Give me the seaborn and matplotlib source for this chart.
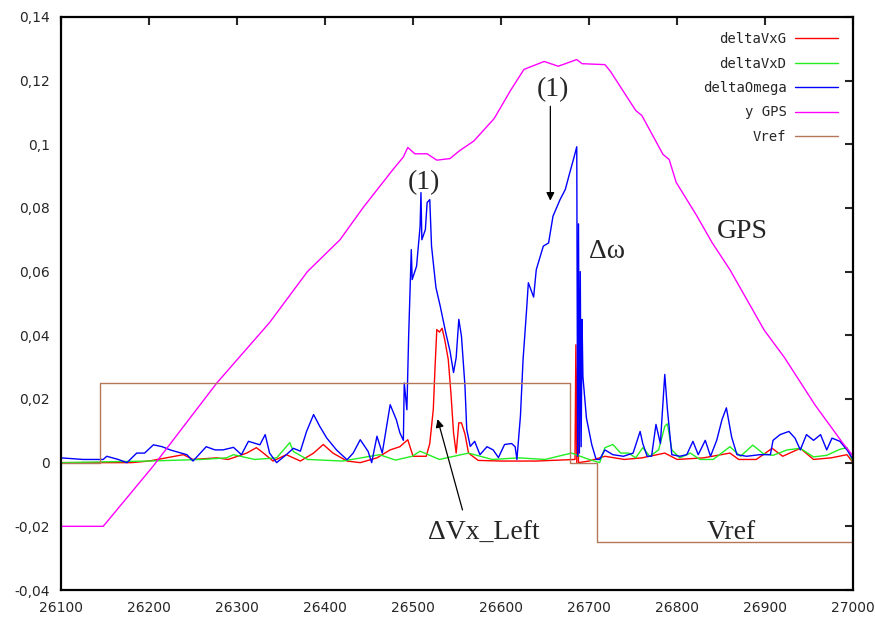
import pandas as pd
import matplotlib
matplotlib.use("Agg")
import matplotlib.pyplot as plt
from matplotlib.ticker import FuncFormatter
import seaborn as sns

# valeurs
om_x = [26100, 26125, 26148, 26152, 26165, 26175, 26186, 26195, 26205, 26215, 26224, 26243, 26250, 26265,
        26275, 26284, 26296, 26305, 26313, 26326, 26332, 26337, 26345, 26356, 26364, 26372, 26379, 26387,
        26394, 26402, 26413, 26425, 26432, 26440, 26449, 26453, 26459, 26465, 26474, 26481, 26485, 26489,
        26490, 26493, 26495, 26497, 26498, 26499, 26504, 26508, 26509, 26510, 26514, 26516, 26519, 26521,
        26526, 26531, 26537, 26542, 26546, 26549, 26552, 26555, 26559, 26561, 26565, 26570, 26576, 26584,
        26591, 26597, 26604, 26612, 26616, 26618, 26622, 26625, 26629, 26631, 26637, 26640, 26648, 26654,
        26659, 26667, 26673, 26678, 26682, 26686, 26687, 26688, 26689, 26690, 26691, 26692, 26693, 26697,
        26703, 26708, 26712, 26718, 26727, 26739, 26750, 26758, 26761, 26766, 26771, 26776, 26781, 26786,
        26789, 26794, 26803, 26811, 26818, 26824, 26832, 26838, 26845, 26851, 26856, 26862, 26868, 26879,
        26894, 26906, 26909, 26917, 26927, 26934, 26940, 26947, 26955, 26963, 26970, 26976, 26985, 26993, 27000]
om_y = [0.0015, 0.001, 0.001, 0.002, 0.001, 0.0, 0.003, 0.003, 0.0056, 0.005, 0.004, 0.0025, 0.0005, 0.005,
        0.004, 0.004, 0.0048, 0.0025, 0.0067, 0.0056, 0.0088, 0.003, 0.0, 0.0025, 0.0045, 0.0036, 0.0098, 0.0151,
        0.0114, 0.0077, 0.004, 0.0009, 0.003, 0.0072, 0.0035, 0.0, 0.0083, 0.003, 0.0182, 0.0135, 0.0094, 0.007,
        0.025, 0.0166, 0.0397, 0.0575, 0.0669, 0.0575, 0.0617, 0.0742, 0.0848, 0.070, 0.0732, 0.0817, 0.0826, 0.068,
        0.055, 0.049, 0.041, 0.035, 0.0283, 0.033, 0.045, 0.0397, 0.024, 0.0104, 0.0051, 0.0067, 0.0025, 0.005,
        0.004, 0.0016, 0.0057, 0.006, 0.005, 0.001, 0.0146, 0.0324, 0.048, 0.0565, 0.052, 0.0606, 0.068, 0.069,
        0.0774, 0.0826, 0.0858, 0.091, 0.095, 0.0992, 0.002, 0.075, 0.003, 0.06, 0.005, 0.045, 0.027, 0.014,
        0.0057, 0.001, 0.001, 0.004, 0.0025, 0.002, 0.003, 0.0098, 0.006, 0.002, 0.002, 0.012, 0.006, 0.0277,
        0.0167, 0.0025, 0.002, 0.0025, 0.0067, 0.0025, 0.007, 0.002, 0.007, 0.0135, 0.0172, 0.008, 0.0025, 0.002,
        0.0025, 0.0025, 0.007, 0.0088, 0.0098, 0.0077, 0.004, 0.0088, 0.007, 0.0088, 0.004, 0.0077, 0.0067, 0.004, 0.001]

vxg_x = [26100, 26180, 26200, 26239, 26250, 26277, 26290, 26311, 26322, 26330, 26341, 26356, 26372, 26387,
         26398, 26409, 26425, 26440, 26459, 26474, 26485, 26494, 26500, 26515, 26519, 26523, 26525, 26527,
         26530, 26533, 26536, 26540, 26543, 26546, 26549, 26552, 26555, 26559, 26563, 26574, 26600, 26640,
         26684, 26685, 26686, 26687, 26688, 26700, 26718, 26740, 26760, 26786, 26800, 26830, 26860, 26870,
         26890, 26908, 26920, 26940, 26955, 26975, 26993, 27000]
vxg_y = [0.0, 0.0, 0.0005, 0.0025, 0.001, 0.0015, 0.001, 0.003, 0.0047, 0.003, 0.0005, 0.0025, 0.0005, 0.003,
         0.0057, 0.003, 0.0005, 0.0, 0.0015, 0.004, 0.005, 0.0072, 0.002, 0.002, 0.006, 0.0167, 0.030, 0.0418,
         0.041, 0.0422, 0.0386, 0.0324, 0.022, 0.0094, 0.003, 0.0125, 0.0125, 0.009, 0.003, 0.0007, 0.0005, 0.0005,
         0.001, 0.037, 0.0, 0.03, 0.0, 0.0005, 0.002, 0.001, 0.0015, 0.003, 0.001, 0.0015, 0.003, 0.001,
         0.001, 0.0045, 0.002, 0.0045, 0.001, 0.0015, 0.0025, 0.0]

vxd_x = [26100, 26200, 26260, 26288, 26296, 26320, 26345, 26360, 26364, 26380, 26420, 26462, 26480, 26499,
         26508, 26530, 26563, 26590, 26620, 26650, 26680, 26700, 26712, 26718, 26727, 26736, 26745, 26753,
         26761, 26769, 26779, 26786, 26789, 26794, 26803, 26815, 26826, 26841, 26860, 26872, 26886, 26898,
         26909, 26925, 26940, 26955, 26970, 26985, 26993, 27000]
vxd_y = [0.0, 0.0005, 0.001, 0.0015, 0.0025, 0.001, 0.0015, 0.0063, 0.0035, 0.001, 0.0005, 0.0025, 0.0008, 0.002,
         0.0036, 0.001, 0.003, 0.001, 0.0015, 0.001, 0.003, 0.001, 0.0, 0.0047, 0.0057, 0.003, 0.003, 0.0015,
         0.0047, 0.002, 0.004, 0.0114, 0.0122, 0.004, 0.0015, 0.003, 0.001, 0.001, 0.005, 0.002, 0.0055, 0.0028,
         0.0023, 0.004, 0.0045, 0.0018, 0.0023, 0.0042, 0.0047, 0.0]

gps_x = [26100, 26148, 26205, 26277, 26337, 26380, 26417, 26443, 26477, 26489, 26494, 26502, 26516, 26527,
         26542, 26553, 26569, 26592, 26611, 26626, 26649, 26665, 26686, 26692, 26718, 26724, 26753, 26760,
         26784, 26791, 26799, 26822, 26840, 26860, 26899, 26922, 26957, 26976, 26987, 26999, 27000]
gps_y = [-0.020, -0.020, -0.001, 0.025, 0.044, 0.060, 0.070, 0.080, 0.092, 0.096, 0.099, 0.097, 0.097, 0.095,
         0.0955, 0.098, 0.101, 0.108, 0.117, 0.1235, 0.126, 0.1245, 0.1266, 0.1253, 0.125, 0.123, 0.1106, 0.109,
         0.0968, 0.0952, 0.088, 0.0777, 0.069, 0.0606, 0.0416, 0.033, 0.018, 0.0108, 0.0066, 0.0024, 0.001]

vref_x = [26100, 26144, 26144, 26678, 26678, 26709, 26709, 27000]
vref_y = [0.0, 0.0, 0.025, 0.025, 0.0, 0.0, -0.025, -0.025]

x_ticks = [26100, 26200, 26300, 26400, 26500, 26600, 26700, 26800, 26900, 27000]
y_ticks = [-0.04, -0.02, 0.0, 0.02, 0.04, 0.06, 0.08, 0.1, 0.12, 0.14]

series = [
    ("deltaVxG", vxg_x, vxg_y, "#ff0000"),
    ("deltaVxD", vxd_x, vxd_y, "#22ee22"),
    ("deltaOmega", om_x, om_y, "#0000ff"),
    ("y GPS", gps_x, gps_y, "#ff00ff"),
    ("Vref", vref_x, vref_y, "#b5765a"),
]

sns.set_style("white")
plt.rcParams["font.family"] = ["DejaVu Sans"]

fig = plt.figure(figsize=(8.75, 6.25), dpi=100)
ax = fig.add_axes([0.0697, 0.056, 0.9053, 0.917])

for name, xs, ys, col in series:
    df = pd.DataFrame({"x": xs, "y": ys})
    sns.lineplot(data=df, x="x", y="y", sort=False, estimator=None, color=col,
                 lw=1.0, label=name, ax=ax)

ax.set_xlim(26100, 27000)
ax.set_ylim(-0.04, 0.14)
ax.set_xticks(x_ticks)
ax.set_yticks(y_ticks)
ax.yaxis.set_major_formatter(FuncFormatter(lambda v, p: ("%g" % round(v, 3)).replace(".", ",")))
ax.set_xlabel("")
ax.set_ylabel("")
ax.tick_params(direction="in", length=6, width=1.5, top=True, right=True, labelsize=10, pad=8)
for s in ax.spines.values():
    s.set_color("black")
    s.set_linewidth(1.6)

leg = ax.legend(loc="upper right", frameon=False, markerfirst=False,
                prop={"family": "DejaVu Sans Mono", "size": 10},
                handlelength=3.1, handletextpad=0.6, labelspacing=0.75,
                borderaxespad=0.6, borderpad=0.5)

serif = {"family": "Liberation Serif", "size": 20}
ax.text(26512, 0.0881, "(1)", ha="center", va="center", fontdict=serif)
ax.text(26659, 0.1172, "(1)", ha="center", va="center", fontdict=serif)
ax.text(26720, 0.0663, "Δω", ha="center", va="center", fontdict=serif)
ax.text(26874, 0.0727, "GPS", ha="center", va="center", fontdict=serif)
ax.text(26580, -0.0223, "ΔVx_Left", ha="center", va="center", fontdict=serif)
ax.text(26862, -0.0220, "Vref", ha="center", va="center", fontdict=serif)

arrow = dict(arrowstyle="-|>", color="black", lw=0.9, mutation_scale=12)
ax.annotate("", xy=(26656, 0.0814), xytext=(26656, 0.1128), arrowprops=arrow)
ax.annotate("", xy=(26527, 0.0145), xytext=(26557, -0.0157), arrowprops=arrow)

fig.savefig("out.png", dpi=100)
